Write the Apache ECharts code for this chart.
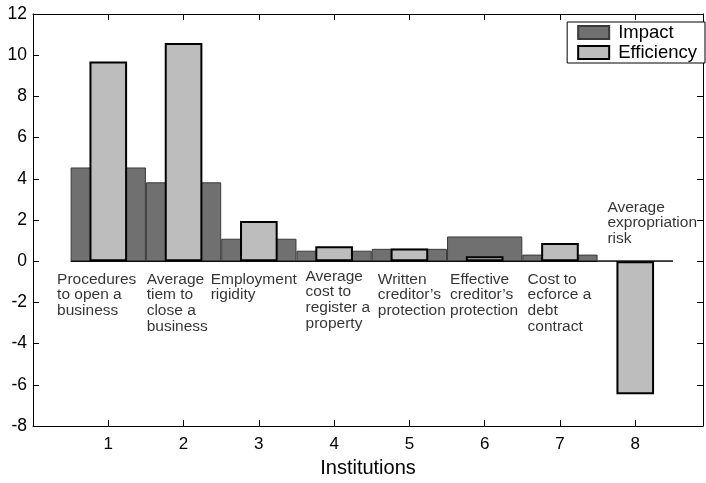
<!DOCTYPE html>
<html>
<head>
<meta charset="utf-8">
<script src="https://cdn.jsdelivr.net/npm/echarts@6/dist/echarts.min.js"></script>
<style>
html,body{margin:0;padding:0;background:#fff;}
#chart{width:706px;height:483px;}
</style>
</head>
<body>
<div id="chart"></div>
<script>
const institutions = [1, 2, 3, 4, 5, 6, 7, 8];
const impact = [4.55, 3.83, 1.09, 0.51, 0.60, 1.20, 0.32, 0];
const efficiency = [9.70, 10.59, 1.95, 0.72, 0.62, 0.24, 0.88, -6.46];
const notes = [
  'Procedures\nto open a\nbusiness',
  'Average\ntiem to\nclose a\nbusiness',
  'Employment\nrigidity',
  'Average\ncost to\nregister a\nproperty',
  'Written\ncreditor\u2019s\nprotection',
  'Effective\ncreditor\u2019s\nprotection',
  'Cost to\necforce a\ndebt\ncontract',
  'Average\nexpropriation\nrisk'
];
const yTicks = [-8, -6, -4, -2, 0, 2, 4, 6, 8, 10, 12];

// annotation anchors (data units), separate from the data
const noteAnchors = [[0.32, -0.50], [1.51, -0.50], [2.36, -0.50], [3.62, -0.36],
  [4.58, -0.50], [5.54, -0.50], [6.57, -0.50], [7.63, 3.0]];

const FONT = '"Liberation Sans", Arial, Helvetica, sans-serif';
const chart = echarts.init(document.getElementById('chart'), null, {renderer: 'canvas'});

const xBase = {
  type: 'value', min: 0, max: 8.9, interval: 1,
  splitLine: {show: false},
  axisLine: {onZero: false, lineStyle: {color: '#000', width: 1}},
  axisTick: {inside: true, length: 6, lineStyle: {color: '#000'}}
};

const option = {
  backgroundColor: '#fff',
  animation: false,
  textStyle: {fontFamily: FONT},
  grid: {left: 33, right: -1, top: 14, bottom: 51, containLabel: false},
  legend: {
    data: ['Impact', 'Efficiency'],
    orient: 'vertical', right: 1, top: 22,
    backgroundColor: '#fff',
    borderColor: '#000', borderWidth: 1,
    padding: [1, 8, 1, 10],
    itemWidth: 31, itemHeight: 13, itemGap: 1,
    icon: 'rect',
    textStyle: {fontFamily: FONT, fontSize: 18.5, color: '#000', padding: [0, 0, 0, 4]}
  },
  xAxis: [
    Object.assign({}, xBase, {
      position: 'bottom',
      name: 'Institutions', nameLocation: 'middle', nameGap: 32,
      nameTextStyle: {fontFamily: FONT, fontSize: 20, color: '#000'},
      axisLabel: {
        margin: 10, fontFamily: FONT, fontSize: 17, color: '#000',
        formatter: v => (Number.isInteger(v) && v >= 1 && v <= 8) ? String(v) : ''
      }
    }),
    Object.assign({}, xBase, {position: 'top', axisLabel: {show: false}})
  ],
  yAxis: [
    {
      type: 'value', min: yTicks[0], max: yTicks[yTicks.length - 1], interval: 2,
      position: 'left',
      splitLine: {show: false},
      axisLine: {onZero: false, lineStyle: {color: '#000', width: 1}},
      axisTick: {inside: true, length: 6, lineStyle: {color: '#000'}},
      axisLabel: {margin: 6, fontFamily: FONT, fontSize: 17.5, color: '#000'}
    },
    {
      type: 'value', min: yTicks[0], max: yTicks[yTicks.length - 1], interval: 2,
      position: 'right',
      splitLine: {show: false},
      axisLine: {onZero: false, lineStyle: {color: '#000', width: 1}},
      axisTick: {inside: true, length: 6, lineStyle: {color: '#000'}},
      axisLabel: {show: false}
    }
  ],
  series: [
    {
      name: 'Baseline', type: 'line', xAxisIndex: 0, yAxisIndex: 0,
      data: [[institutions[0] - 0.5, 0], [institutions[institutions.length - 1] + 0.5, 0]],
      symbol: 'none', silent: true, z: 1,
      lineStyle: {color: '#000', width: 1.5}
    },
    {
      name: 'Impact', type: 'bar', xAxisIndex: 0, yAxisIndex: 0,
      data: institutions.map((x, i) => [x, impact[i]]),
      barWidth: '100%', z: 2,
      itemStyle: {color: '#707070', borderColor: '#3a3a3a', borderWidth: 1}
    },
    {
      name: 'Efficiency', type: 'bar', xAxisIndex: 1, yAxisIndex: 0,
      data: institutions.map((x, i) => [x, efficiency[i]]),
      barWidth: '50%', z: 3,
      itemStyle: {color: '#bdbdbd', borderColor: '#000', borderWidth: 2}
    },
    {
      name: 'Notes', type: 'scatter', xAxisIndex: 0, yAxisIndex: 0,
      data: noteAnchors.map((p, i) => ({value: p, note: notes[i]})),
      symbolSize: 1, silent: true, z: 5,
      itemStyle: {color: 'transparent'},
      label: {
        show: true, position: 'inside', align: 'left', verticalAlign: 'top',
        fontFamily: FONT, fontSize: 15.5, lineHeight: 15.7, color: '#000',
        formatter: p => notes[p.dataIndex]
      }
    }
  ]
};
chart.setOption(option);
</script>
</body>
</html>
